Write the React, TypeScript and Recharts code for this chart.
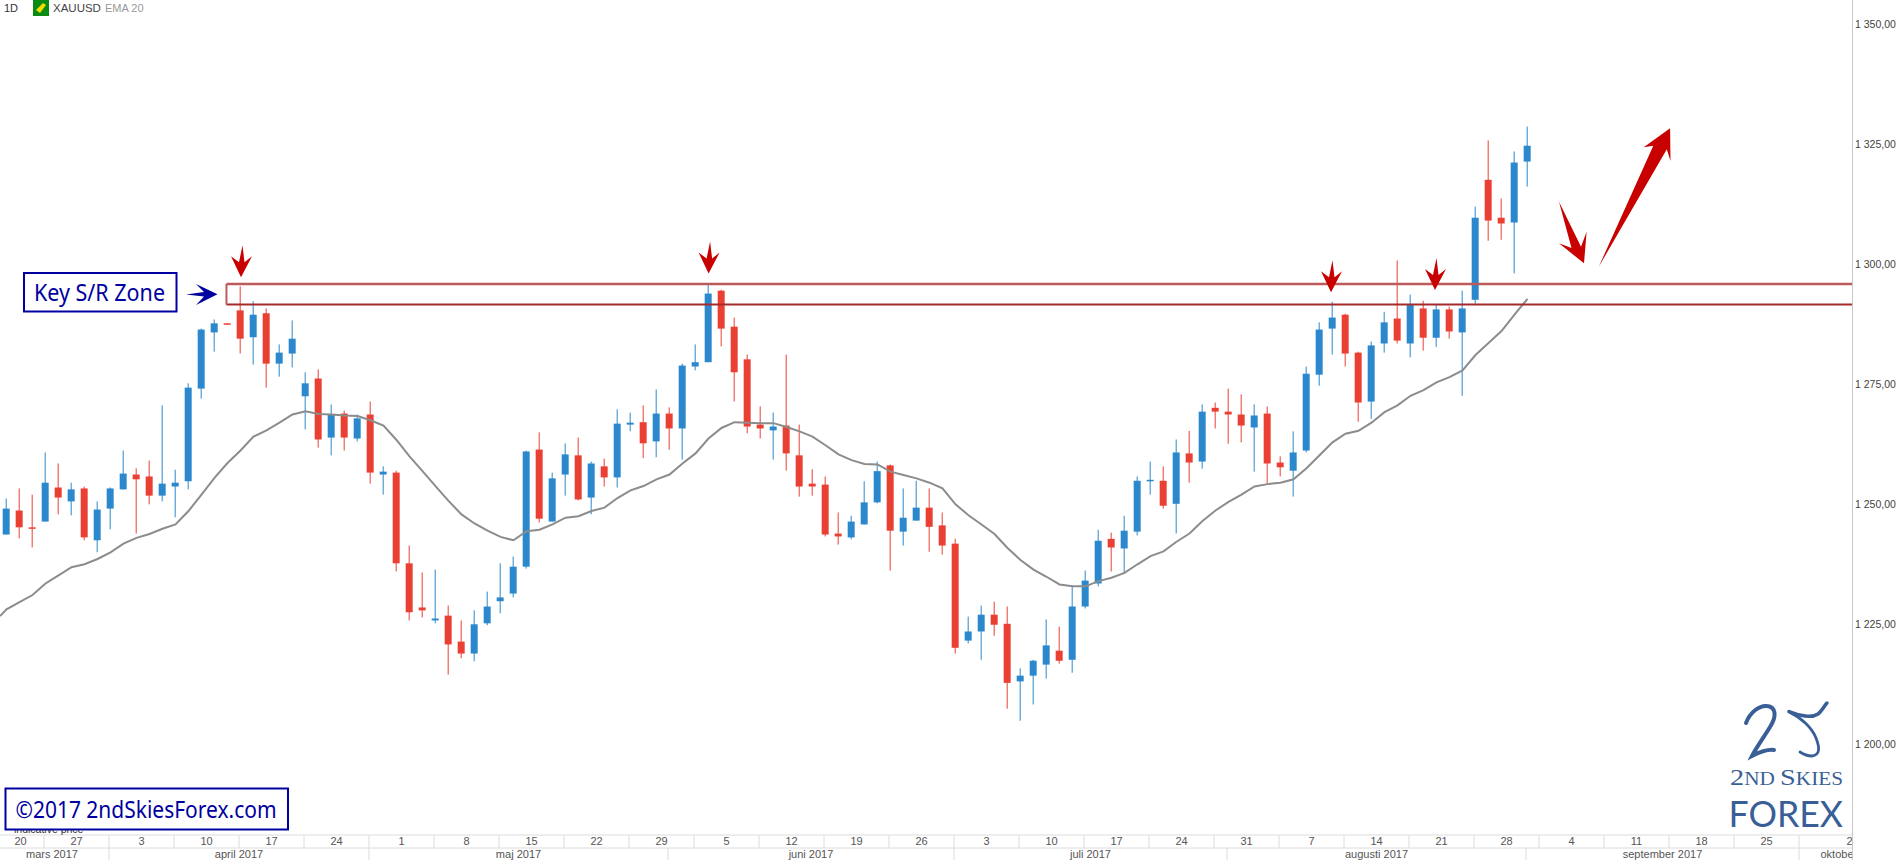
import React from "react";
import { Bar, ComposedChart, Line, ReferenceLine, XAxis, YAxis } from "recharts";

const opens = [
  1243.6, 1248.6, 1245.1, 1246.3, 1253.4, 1250.5, 1253.2, 1242.4, 1249.0, 1253.0,
  1256.1, 1255.7, 1251.7, 1253.6, 1254.7, 1274.0, 1285.7, 1287.6, 1290.3, 1284.7,
  1289.7, 1279.2, 1281.3, 1272.4, 1276.1, 1263.8, 1268.8, 1263.6, 1268.6, 1256.1,
  1256.5, 1237.6, 1228.4, 1225.7, 1226.7, 1221.3, 1218.8, 1225.1, 1229.7, 1231.3,
  1236.9, 1261.3, 1246.3, 1256.1, 1260.1, 1251.3, 1257.8, 1255.5, 1266.5, 1267.0,
  1263.0, 1268.8, 1265.7, 1278.6, 1279.5, 1294.4, 1286.9, 1280.1, 1266.5, 1265.3,
  1266.3, 1260.1, 1254.2, 1254.0, 1243.8, 1243.0, 1245.7, 1250.3, 1258.0, 1244.2,
  1246.5, 1249.2, 1245.5, 1241.7, 1221.5, 1223.4, 1226.9, 1225.0, 1213.0, 1214.2,
  1216.5, 1219.4, 1217.5, 1228.6, 1233.4, 1242.7, 1240.7, 1244.2, 1254.8, 1254.8,
  1250.0, 1260.5, 1258.8, 1270.0, 1269.2, 1268.6, 1265.9, 1268.8, 1258.6, 1256.9,
  1261.1, 1276.9, 1286.5, 1289.4, 1281.5, 1271.3, 1283.4, 1288.6, 1283.4, 1290.7,
  1284.6, 1290.5, 1285.7, 1292.5, 1317.5, 1309.6, 1308.6, 1321.3,
];
const closes = [
  1249.0, 1245.1, 1244.9, 1254.4, 1251.3, 1253.0, 1243.0, 1248.8, 1253.2, 1256.3,
  1255.1, 1251.7, 1254.2, 1254.4, 1274.2, 1286.3, 1287.6, 1287.4, 1284.4, 1289.4,
  1279.2, 1281.5, 1284.4, 1275.1, 1263.4, 1268.6, 1263.8, 1267.8, 1256.5, 1256.7,
  1237.6, 1227.4, 1227.8, 1226.1, 1220.7, 1218.8, 1224.9, 1228.6, 1230.5, 1236.9,
  1260.9, 1246.9, 1255.3, 1260.3, 1250.9, 1258.4, 1255.5, 1266.7, 1266.9, 1262.6,
  1268.8, 1265.7, 1278.8, 1279.5, 1293.8, 1286.5, 1277.4, 1266.1, 1265.7, 1266.1,
  1260.5, 1253.6, 1253.6, 1243.6, 1243.2, 1246.3, 1250.3, 1256.8, 1244.4, 1247.1,
  1249.2, 1245.2, 1241.3, 1220.0, 1223.4, 1226.9, 1224.8, 1212.7, 1214.2, 1217.3,
  1220.5, 1217.3, 1228.6, 1234.0, 1242.3, 1240.9, 1244.4, 1254.8, 1255.0, 1249.6,
  1260.7, 1258.6, 1269.2, 1269.2, 1268.6, 1266.3, 1268.4, 1258.4, 1257.6, 1260.7,
  1277.1, 1286.3, 1288.8, 1281.3, 1271.1, 1283.0, 1287.8, 1284.0, 1291.4, 1284.6,
  1290.5, 1285.9, 1290.7, 1309.6, 1309.0, 1308.4, 1321.1, 1324.6,
];
const highs = [
  1251.1, 1253.2, 1251.9, 1260.7, 1258.4, 1254.4, 1253.6, 1250.5, 1253.4, 1261.1,
  1257.4, 1259.0, 1270.5, 1257.1, 1275.1, 1286.5, 1288.4, 1287.6, 1295.3, 1292.2,
  1290.7, 1283.2, 1288.2, 1277.4, 1278.0, 1270.7, 1269.4, 1268.6, 1271.3, 1257.8,
  1256.9, 1241.3, 1235.7, 1236.3, 1228.8, 1225.7, 1227.8, 1231.7, 1237.6, 1239.0,
  1261.1, 1264.9, 1256.5, 1262.6, 1263.8, 1258.8, 1259.4, 1269.7, 1269.0, 1270.5,
  1273.8, 1270.1, 1279.2, 1283.2, 1296.0, 1294.6, 1288.8, 1281.1, 1270.3, 1269.0,
  1281.1, 1266.5, 1257.2, 1255.7, 1248.2, 1247.5, 1254.7, 1258.8, 1258.2, 1253.2,
  1254.8, 1253.2, 1248.2, 1242.7, 1226.5, 1228.8, 1229.6, 1228.6, 1215.7, 1217.5,
  1225.9, 1224.4, 1233.0, 1236.1, 1244.6, 1244.0, 1247.5, 1255.7, 1258.8, 1257.8,
  1263.4, 1265.2, 1270.7, 1271.1, 1274.0, 1272.8, 1270.7, 1270.3, 1259.9, 1265.1,
  1278.6, 1287.8, 1292.1, 1289.6, 1281.7, 1283.8, 1290.0, 1300.7, 1293.6, 1292.3,
  1291.5, 1291.1, 1294.4, 1311.9, 1325.7, 1313.6, 1323.4, 1328.6,
];
const lows = [
  1243.6, 1242.8, 1240.9, 1246.3, 1247.8, 1247.6, 1242.4, 1239.9, 1244.7, 1253.0,
  1243.8, 1249.9, 1250.5, 1247.2, 1253.0, 1271.9, 1281.7, 1287.4, 1281.3, 1279.0,
  1274.2, 1276.5, 1278.4, 1265.5, 1261.7, 1260.1, 1261.1, 1263.0, 1254.2, 1251.9,
  1235.9, 1225.7, 1226.3, 1225.1, 1214.4, 1217.8, 1217.2, 1224.7, 1227.2, 1230.5,
  1236.5, 1246.1, 1246.3, 1251.7, 1250.7, 1247.8, 1253.6, 1253.4, 1265.1, 1259.5,
  1259.7, 1261.3, 1259.2, 1277.8, 1279.5, 1282.8, 1271.3, 1264.7, 1263.6, 1259.2,
  1256.9, 1251.5, 1251.7, 1243.2, 1241.5, 1242.6, 1245.7, 1250.1, 1236.1, 1241.3,
  1246.5, 1240.0, 1239.4, 1218.8, 1220.9, 1217.5, 1222.5, 1207.3, 1204.8, 1208.2,
  1213.6, 1216.7, 1214.8, 1228.2, 1232.8, 1235.9, 1235.5, 1243.4, 1251.9, 1249.0,
  1243.8, 1254.4, 1257.3, 1265.7, 1262.5, 1262.8, 1256.7, 1254.0, 1255.7, 1251.5,
  1260.7, 1274.6, 1281.1, 1278.6, 1267.1, 1267.7, 1281.5, 1283.4, 1280.5, 1281.9,
  1282.7, 1284.4, 1272.5, 1291.7, 1304.8, 1305.0, 1298.0, 1316.1,
];
const emaValues = [
  1228.0, 1229.5, 1231.0, 1233.4, 1235.1, 1236.8, 1237.4, 1238.5, 1239.9, 1241.7,
  1242.9, 1243.7, 1244.8, 1245.7, 1248.5, 1251.9, 1255.4, 1258.5, 1261.1, 1264.0,
  1265.3, 1266.9, 1268.6, 1269.3, 1268.7, 1268.6, 1268.4, 1268.3, 1267.4, 1266.3,
  1263.3, 1259.9, 1256.8, 1253.7, 1250.6, 1247.8, 1245.9, 1244.4, 1243.1, 1242.4,
  1244.3, 1244.6, 1245.7, 1247.1, 1247.4, 1248.5, 1249.2, 1251.2, 1252.8, 1253.7,
  1255.1, 1256.1, 1258.4, 1260.5, 1263.6, 1265.8, 1267.0, 1266.9, 1266.8, 1266.8,
  1266.0, 1265.1, 1264.0, 1262.2, 1260.3, 1259.1, 1258.3, 1258.2, 1256.7, 1256.0,
  1255.3, 1254.4, 1253.2, 1249.9, 1247.6, 1245.7, 1243.7, 1240.8, 1238.3, 1236.3,
  1234.8, 1233.2, 1232.8, 1232.8, 1233.9, 1234.6, 1235.6, 1237.4, 1239.1, 1240.1,
  1242.1, 1243.8, 1246.4, 1248.6, 1250.4, 1251.9, 1253.6, 1254.1, 1254.4, 1255.1,
  1257.4, 1260.1, 1262.8, 1264.6, 1265.2, 1266.9, 1269.1, 1270.5, 1272.5, 1273.7,
  1275.3, 1276.4, 1277.8, 1281.0, 1283.5, 1286.0, 1289.4, 1292.7,
];
// the EMA runs in from the left edge, before the first visible candle
const emaLeadIn = { day: -0.5, ema: 1226.6 };

const priceTicks = [1200, 1225, 1250, 1275, 1300, 1325, 1350];
const weekTicks = [0, 3, 8, 13, 18, 23, 28, 33, 38, 43, 48, 53, 58, 63, 68, 73, 78, 83, 88, 93, 98, 103, 108, 113, 118, 123, 128, 133, 138];
const weekLabels = ["20", "27", "3", "10", "17", "24", "1", "8", "15", "22", "29", "5", "12", "19", "26", "3", "10", "17", "24", "31", "7", "14", "21", "28", "4", "11", "18", "25", "2"];
const monthTicks = [0, 8, 28, 51, 73, 94, 117, 138];
const monthLabels = ["mars 2017", "april 2017", "maj 2017", "juni 2017", "juli 2017", "augusti 2017", "september 2017", "oktober 2017"];
const zoneTop = 1295.8;
const zoneBottom = 1291.5;
const zoneStart = 16.92;

const data = opens.map((open, i) => ({
  day: i,
  open,
  close: closes[i],
  high: highs[i],
  low: lows[i],
}));
const emaRows = [emaLeadIn, ...emaValues.map((ema, i) => ({ day: i, ema }))];

const UP = "#2b88cc";
const DOWN = "#ea4034";
const AXIS = "#dcdcdc";
const DAY_W = 13;

const Candle = (props: any) => {
  const { x, y, width, height, payload } = props;
  const color = payload.close >= payload.open ? UP : DOWN;
  const perUnit = height / (payload.high - payload.low);
  const top = y + (payload.high - Math.max(payload.open, payload.close)) * perUnit;
  const bottom = y + (payload.high - Math.min(payload.open, payload.close)) * perUnit;
  const cx = x + width / 2;
  return (
    <g>
      <line x1={cx} x2={cx} y1={y} y2={y + height} stroke={color} strokeWidth={1} />
      <rect x={cx - 3.5} y={top} width={7} height={Math.max(bottom - top, 1.5)} fill={color} />
    </g>
  );
};

const WeekTick = ({ x, payload }: any) => {
  const i = weekTicks.indexOf(payload.value);
  const first = i === 0;
  const last = i === weekTicks.length - 1;
  return (
    <g>
      {!first && <line x1={x - 1.5} x2={x - 1.5} y1={835} y2={848} stroke={AXIS} />}
      <text
        x={first ? 20.5 : last ? x + 49 : x + 31}
        y={845}
        textAnchor="middle"
        fontSize={11}
        fill="#555"
        fontFamily="Liberation Sans"
      >
        {weekLabels[i]}
      </text>
    </g>
  );
};

const MonthTick = ({ x, payload }: any) => {
  const i = monthTicks.indexOf(payload.value);
  const first = i === 0;
  const last = i === monthTicks.length - 1;
  const center = first ? 52 : last ? x + 20 : x - 1.5 + ((monthTicks[i + 1] - monthTicks[i]) * DAY_W) / 2;
  return (
    <g>
      {!first && <line x1={x - 1.5} x2={x - 1.5} y1={848} y2={860} stroke={AXIS} />}
      <text
        x={center}
        y={858}
        textAnchor={last ? "start" : "middle"}
        fontSize={11}
        fill="#555"
        fontFamily="Liberation Sans"
      >
        {monthLabels[i]}
      </text>
    </g>
  );
};

const formatPrice = (v: number) => `${Math.floor(v / 1000)} ${String(v % 1000).padStart(3, "0")},00`;

const PriceTick = ({ y, payload }: any) => (
  <text x={1855} y={y + 4} fontSize={10.5} fill="#444" fontFamily="Liberation Sans">
    {formatPrice(payload.value)}
  </text>
);

const downArrow = (x: number, y: number) =>
  `${x},${y} ${x + 11},${y - 21} ${x + 3.5},${y - 15} ${x + 1.5},${y - 32} ${x - 2},${y - 15} ${x - 10},${y - 21}`;

const TRADE_RED = "#c80000";
const NAVY = "#0000a0";
const LOGO = "#3a5f96";

export default function App() {
  return (
    <div style={{ position: "absolute", left: 0, top: 0, width: 1898, height: 860, background: "#fff", overflow: "hidden" }}>
      <ComposedChart
        width={1898}
        height={860}
        data={data}
        margin={{ top: 0, right: 0, bottom: 0, left: 0 }}
      >
        <XAxis
          dataKey="day"
          type="number"
          domain={[-0.5, 142]}
          allowDataOverflow
          ticks={weekTicks}
          interval={0}
          height={13}
          stroke={AXIS}
          tickLine={false}
          tick={<WeekTick />}
        />
        <XAxis
          xAxisId="months"
          dataKey="day"
          type="number"
          domain={[-0.5, 142]}
          allowDataOverflow
          ticks={monthTicks}
          interval={0}
          height={12}
          stroke={AXIS}
          tickLine={false}
          tick={<MonthTick />}
        />
        <YAxis
          orientation="right"
          width={45.5}
          domain={[1181, 1354.96]}
          allowDataOverflow
          ticks={priceTicks}
          interval={0}
          tickLine={false}
          stroke="#c8c8c8"
          tick={<PriceTick />}
        />
        <Bar
          dataKey={(d: any) => [d.low, d.high]}
          barSize={7}
          shape={Candle}
          isAnimationActive={false}
        />
        <Line
          data={emaRows}
          dataKey="ema"
          type="linear"
          stroke="#8c8c8c"
          strokeWidth={2}
          dot={false}
          activeDot={false}
          isAnimationActive={false}
        />
        <ReferenceLine
          segment={[{ x: zoneStart, y: zoneTop }, { x: 142, y: zoneTop }]}
          stroke="#bd5a5a"
          strokeWidth={2.5}
        />
        <ReferenceLine
          segment={[{ x: zoneStart, y: zoneBottom }, { x: 142, y: zoneBottom }]}
          stroke="#a52a2a"
          strokeWidth={2}
        />
        <ReferenceLine
          segment={[{ x: zoneStart, y: zoneBottom }, { x: zoneStart, y: zoneTop }]}
          stroke="#bd5a5a"
          strokeWidth={2}
        />
      </ComposedChart>

      <svg width={1898} height={860} style={{ position: "absolute", left: 0, top: 0, pointerEvents: "none" }}>
        {/* clip the axis rows at the price scale */}
        <rect x={1852.9} y={835} width={46} height={25} fill="#fff" />
        <line x1={1852.5} x2={1852.5} y1={835} y2={860} stroke="#c8c8c8" />

        {/* header */}
        <text x={4} y={12} fontSize={11} fill="#333" fontFamily="Liberation Sans">1D</text>
        <rect x={33} y={0} width={16} height={16} fill="#0a8a12" />
        <polygon points="36,10 43,3 46,5 40,13" fill="#f0dc00" />
        <text x={53} y={12} fontSize={11.5} fill="#444" fontFamily="Liberation Sans">XAUUSD</text>
        <text x={105} y={12} fontSize={11} fill="#999" fontFamily="Liberation Sans">EMA 20</text>

        {/* red arrows on the zone */}
        <polygon points={downArrow(241, 277.3)} fill={TRADE_RED} />
        <polygon points={downArrow(708.6, 273.5)} fill={TRADE_RED} />
        <polygon points={downArrow(1331, 292.3)} fill={TRADE_RED} />
        <polygon points={downArrow(1435, 290)} fill={TRADE_RED} />
        <polygon points="1559,201.7 1581,246.7 1586.6,231.7 1584,263.3 1559,243.3 1571.5,248" fill={TRADE_RED} />
        <polygon points="1598.8,266.7 1653.3,145.7 1643.7,147.3 1670.1,128.3 1670.5,161 1666.8,149.3" fill={TRADE_RED} />

        {/* zone label */}
        <rect x={24} y={273} width={152.5} height={38.5} fill="#fff" stroke="#0000a0" strokeWidth={2} />
        <text x={34} y={301} fontSize={23} fill={NAVY} fontFamily="Noto Sans" textLength={131} lengthAdjust="spacingAndGlyphs">
          Key S/R Zone
        </text>
        <polygon points="217.5,294.3 196,284 204,292 186,294.5 204,296.5 196,305" fill={NAVY} />

        {/* copyright */}
        <text x={14} y={832.5} fontSize={10.5} fill="#333" fontFamily="Liberation Sans">indicative price</text>
        <rect x={5.5} y={788.5} width={282.5} height={41} fill="#fff" stroke="#0000a0" strokeWidth={2} />
        <text x={15.5} y={818} fontSize={23} fill={NAVY} fontFamily="Noto Sans" textLength={261} lengthAdjust="spacingAndGlyphs">
          ©2017 2ndSkiesForex.com
        </text>

        {/* logo */}
        <path d="M1746,723 C1750,712 1760,705 1767,706 C1776,707 1777,716 1770,727 C1764,737 1756,748 1752,756 C1760,752 1768,749 1774,750" fill="none" stroke={LOGO} strokeWidth={4} strokeLinecap="round" />
        <path d="M1789,711.5 C1800,716 1812,718 1818,714 C1822,711 1824,706 1827,703" fill="none" stroke={LOGO} strokeWidth={3.5} strokeLinecap="round" />
        <path d="M1789,712 C1802,718 1812,728 1816,738 C1820,748 1820,755 1812,756 C1807,756 1803,754 1800,752" fill="none" stroke={LOGO} strokeWidth={2.8} strokeLinecap="round" />
        <text x={1730} y={785} fontSize={24} fill={LOGO} fontFamily="Liberation Serif" textLength={113} lengthAdjust="spacingAndGlyphs">
          2<tspan fontSize={18}>ND </tspan>S<tspan fontSize={18}>KIES</tspan>
        </text>
        <text x={1728.5} y={826.5} fontSize={37} fill={LOGO} fontFamily="Lato" textLength={114.5} lengthAdjust="spacingAndGlyphs">
          FOREX
        </text>
      </svg>
    </div>
  );
}
